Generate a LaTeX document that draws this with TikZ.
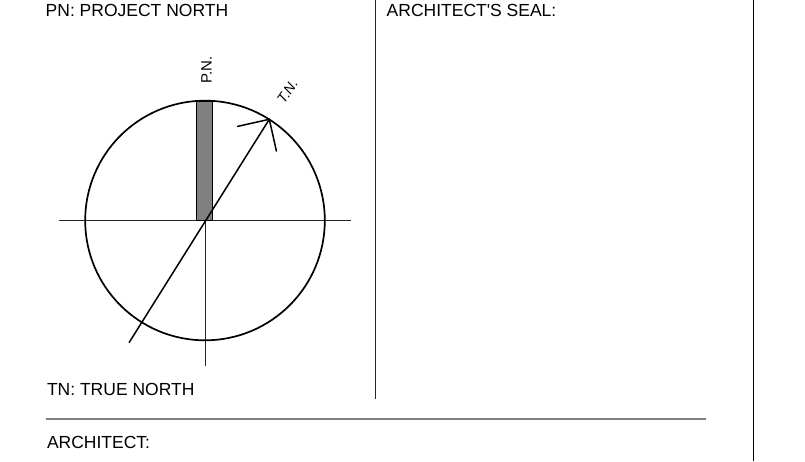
\documentclass[tikz,border=0pt]{standalone}
\usepackage{fontspec}
\setmainfont{Liberation Sans}[Ligatures=TeXOff]
\begin{document}
\begin{tikzpicture}[x=1pt,y=-1pt,
  lbl/.style={inner sep=0pt,anchor=base west,font=\fontsize{17.5}{20}\selectfont},
  small/.style={inner sep=0pt,font=\fontsize{15}{17}\selectfont},
  axis/.style={line width=1pt,black!85},
  frameline/.style={line width=1.2pt,black!85}]
\useasboundingbox (0,0) rectangle (805,461);
% coordinates
\coordinate (c) at (205,220.5);
\coordinate (tip) at (269.3,119.3);
\coordinate (tail) at (129,342.7);
\coordinate (b1) at (237.1,126.5);
\coordinate (b2) at (276.5,151.5);
% axes
\draw[axis] (59.3,220.5) coordinate (hl) -- (351,220.5) coordinate (hr);
\draw[axis] (205,100) coordinate (vt) -- (205,365.7) coordinate (vb);
% circle
\draw[line width=1.7pt] (c) circle[radius=119.8];
% P.N. bar
\draw[line width=1.1pt,fill=black!50] (196.9,101) rectangle (212.8,220.5);
% T.N. arrow
\draw[line width=1.5pt] (tail) -- (tip);
\draw[line width=1.5pt] (b1) -- (tip) -- (b2);
% labels
\node[small,rotate=90,anchor=base west] (pn) at (211.5,83.5) {P.N.};
\node[inner sep=0pt,rotate=56,font=\fontsize{14}{16}\selectfont\itshape] (tn) at (287.5,91.5) {T.N.};
\node[lbl] (t1) at (45.5,16) {PN: PROJECT NORTH};
\node[lbl] (t2) at (386.5,16.7) {ARCHITECT'S SEAL:};
\node[lbl] (t3) at (46.8,395.7) {TN: TRUE NORTH};
\node[lbl] (t4) at (46.8,448.7) {ARCHITECT:};
% frame lines
\draw[frameline] (375.7,0) coordinate (d1) -- (375.7,399.3) coordinate (d2);
\draw[line width=1.3pt,black] (753.3,0) coordinate (r1) -- (753.3,461) coordinate (r2);
\draw[line width=1.6pt,black!50] (45.7,419) coordinate (g1) -- (705.7,419) coordinate (g2);
\end{tikzpicture}
\end{document}
